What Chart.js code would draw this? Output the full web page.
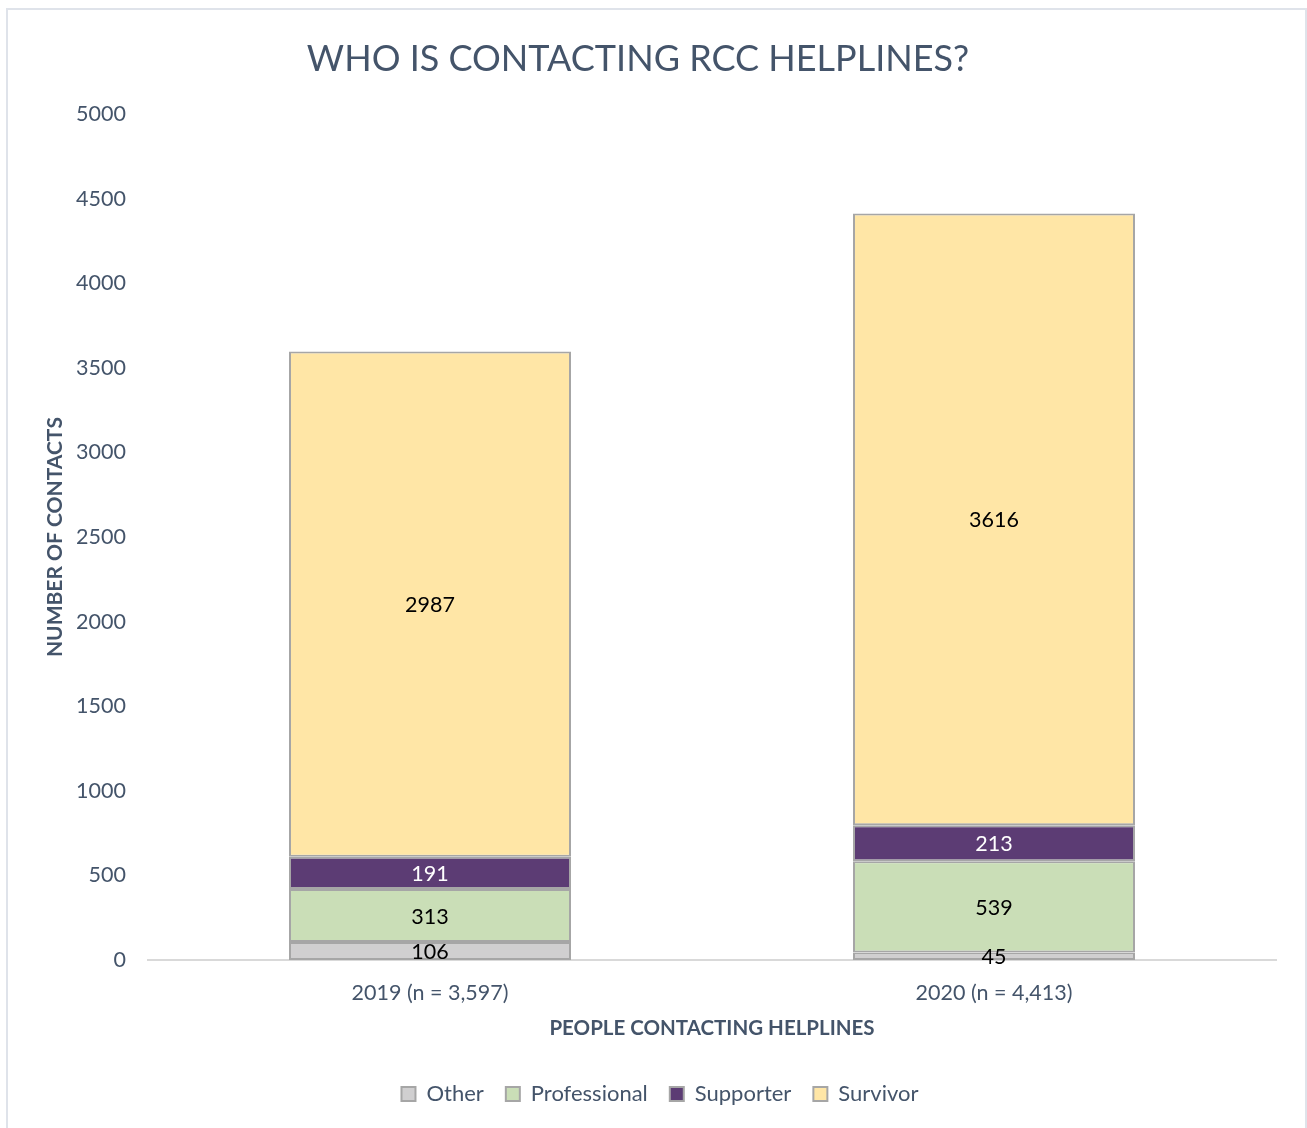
<!DOCTYPE html>
<html>
<head>
<meta charset="utf-8">
<title>Who is contacting RCC helplines?</title>
<script src="https://cdn.jsdelivr.net/npm/chart.js@4"></script>
<style>
  html, body { margin: 0; padding: 0; background: #fff; }
  #wrap { position: relative; width: 1307px; height: 1128px; overflow: hidden; }
  #frame { position: absolute; left: 6px; top: 8px; width: 1297px; height: 1140px; border: 2px solid #dfe3ea; }
  #chart { position: absolute; left: 0; top: 0; }
</style>
</head>
<body>
<div id="wrap">
  <div id="frame"></div>
  <canvas id="chart" width="1307" height="1128"></canvas>
</div>
<script>
// data
const categories = ['2019 (n = 3,597)', '2020 (n = 4,413)'];
const otherValues = [106, 45];
const professionalValues = [313, 539];
const supporterValues = [191, 213];
const survivorValues = [2987, 3616];
const yTicks = [0, 500, 1000, 1500, 2000, 2500, 3000, 3500, 4000, 4500, 5000];

const FONT = 'Lato, "Open Sans", sans-serif';
const TEXT = '#44546a';
const EDGE = '#a6a6a6';

// draws the number in the middle of every segment
const segmentLabels = {
    id: 'segmentLabels',
    afterDatasetsDraw(chart) {
        const ctx = chart.ctx;
        ctx.save();
        ctx.font = '21.5px ' + FONT;
        ctx.textAlign = 'center';
        ctx.textBaseline = 'middle';
        chart.data.datasets.forEach((ds, i) => {
            const meta = chart.getDatasetMeta(i);
            meta.data.forEach((bar, j) => {
                ctx.fillStyle = ds.labelColor;
                ctx.fillText(String(ds.data[j]), bar.x, (bar.y + bar.base) / 2 + 1);
            });
        });
        ctx.restore();
    }
};

// legend in the original is centred on the whole frame, not the plot
const legendShift = {
    id: 'legendShift',
    afterLayout(chart) {
        chart.legend.left += 22;
        chart.legend.right += 22;
    }
};

const ctx = document.getElementById('chart').getContext('2d');
const chart = new Chart(ctx, {
    type: 'bar',
    data: {
        labels: categories,
        datasets: [
            { label: 'Other', data: otherValues, backgroundColor: '#d0cfd0', labelColor: '#000' },
            { label: 'Professional', data: professionalValues, backgroundColor: '#cadeb7', labelColor: '#000' },
            { label: 'Supporter', data: supporterValues, backgroundColor: '#5c3c74', labelColor: '#fff' },
            { label: 'Survivor', data: survivorValues, backgroundColor: '#ffe6a6', labelColor: '#000' }
        ].map(d => Object.assign(d, {
            borderColor: EDGE,
            borderWidth: 2,
            borderSkipped: false,
            categoryPercentage: 1,
            barPercentage: 0.5
        }))
    },
    options: {
        responsive: false,
        animation: false,
        layout: { padding: { left: 0, right: 31, top: 0, bottom: 13 } },
        scales: {
            x: {
                stacked: true,
                grid: { display: false, drawTicks: false },
                border: { display: true, color: '#d9d9d9', width: 2 },
                ticks: { color: TEXT, font: { family: FONT, size: 21.5 }, padding: 20 },
                title: {
                    display: true,
                    text: 'PEOPLE CONTACTING HELPLINES',
                    color: TEXT,
                    font: { family: FONT, size: 20.5, weight: 'bold' },
                    padding: { top: 0, bottom: 20 }
                },
                afterFit: s => { s.height = 101; }
            },
            y: {
                stacked: true,
                min: 0,
                max: 5000,
                afterBuildTicks: s => { s.ticks = yTicks.map(v => ({ value: v })); },
                grid: { display: false, drawTicks: false },
                border: { display: false },
                ticks: {
                    color: TEXT,
                    font: { family: FONT, size: 21.5 },
                    padding: 22,
                    callback: v => String(v)
                },
                title: {
                    display: true,
                    text: 'NUMBER OF CONTACTS',
                    color: TEXT,
                    font: { family: FONT, size: 21, weight: 'bold' },
                    padding: { top: 43, bottom: 0 }
                },
                afterFit: s => { s.width = 148; }
            }
        },
        plugins: {
            title: {
                display: true,
                text: 'WHO IS CONTACTING RCC HELPLINES?',
                color: TEXT,
                font: { family: FONT, size: 36, weight: 'normal' },
                padding: { top: 38, bottom: 33 }
            },
            legend: {
                position: 'bottom',
                labels: {
                    color: TEXT,
                    font: { family: FONT, size: 22 },
                    boxWidth: 14,
                    boxHeight: 14,
                    padding: 22
                }
            },
            tooltip: { enabled: false }
        }
    },
    plugins: [segmentLabels, legendShift]
});
</script>
</body>
</html>
